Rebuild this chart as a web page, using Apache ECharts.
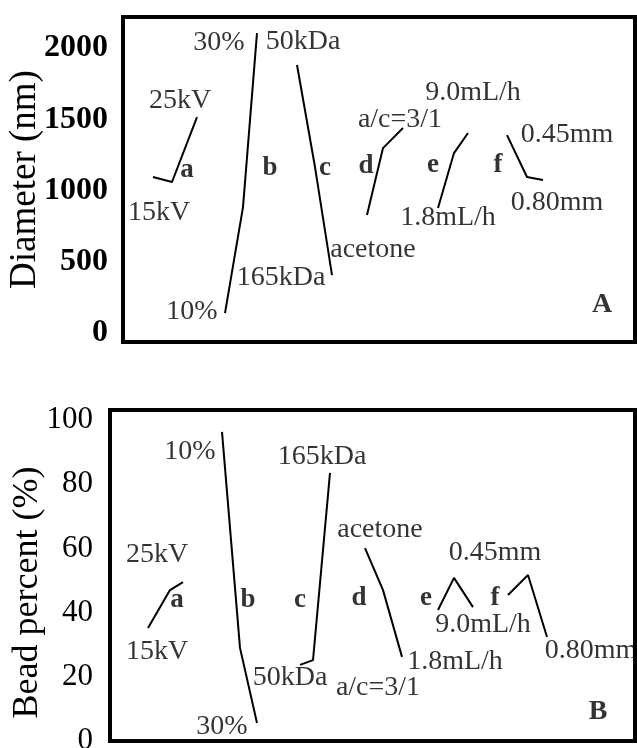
<!DOCTYPE html>
<html>
<head>
<meta charset="utf-8">
<script src="https://cdn.jsdelivr.net/npm/echarts@6/dist/echarts.min.js"></script>
<style>
html,body{margin:0;padding:0;background:#fff;}
#chart{width:637px;height:748px;}
</style>
</head>
<body>
<div id="chart"></div>
<script>
// ---- data ----
const groupNames = ['a', 'b', 'c', 'd', 'e', 'f'];

// Panel A: Diameter (nm)
const diameterX = [[30, 49, 74], [102, 120, 134], [174, 192, 209], [244, 260, 280], [315, 331, 345], [384, 404, 420]];
const diameterY = [[1095, 1060, 1515], [140, 884, 2105], [1881, 1165, 407], [828, 1298, 1439], [877, 1263, 1404], [1389, 1095, 1074]];
const diameterTicks = [0, 500, 1000, 1500, 2000];

// Panel B: Bead percent (%)
const beadX = [[38, 60, 73], [112, 130, 147], [190, 203, 220], [255, 273, 292], [328, 344, 363], [398, 418, 437]];
const beadY = [[35.2, 47.0, 49.5], [96.3, 29.0, 5.6], [23.7, 25.2, 83.5], [60.1, 47.0, 26.2], [40.8, 50.8, 41.7], [45.5, 51.7, 32.4]];
const beadTicks = [0, 20, 40, 60, 80, 100];

// annotation texts with anchor positions in data units: [text, x, y, bold]
const notesA = [
  ['30%', 96, 2035, 0], ['50kDa', 180, 2042, 0], ['25kV', 57, 1628, 0], ['15kV', 36, 842, 0],
  ['a/c=3/1', 277, 1495, 0], ['9.0mL/h', 350, 1684, 0], ['0.45mm', 444, 1389, 0], ['0.80mm', 434, 912, 0],
  ['1.8mL/h', 325, 807, 0], ['acetone', 250, 582, 0], ['165kDa', 158, 386, 0], ['10%', 69, 147, 0],
  ['a', 64, 1144, 1], ['b', 147, 1158, 1], ['c', 202, 1158, 1], ['d', 243, 1170, 1], ['e', 310, 1179, 1], ['f', 375, 1179, 1],
  ['A', 479, 196, 2]
];
const notesB = [
  ['10%', 80, 90.0, 0], ['165kDa', 212, 88.5, 0], ['acetone', 270, 65.7, 0], ['25kV', 47, 57.9, 0],
  ['0.45mm', 385, 58.6, 0], ['9.0mL/h', 373, 36.1, 0], ['15kV', 47, 27.7, 0], ['0.80mm', 481, 28.3, 0],
  ['1.8mL/h', 345, 24.6, 0], ['50kDa', 180, 19.6, 0], ['a/c=3/1', 268, 16.5, 0], ['30%', 112, 4.4, 0],
  ['a', 67, 43.9, 1], ['b', 138, 43.9, 1], ['c', 190, 43.9, 1], ['d', 249, 44.5, 1], ['e', 316, 44.5, 1], ['f', 385, 44.5, 1],
  ['B', 488, 9.0, 2]
];

// ---- chart ----
const FONT = "'Liberation Serif', 'Times New Roman', serif";
const chart = echarts.init(document.getElementById('chart'), null, {renderer: 'canvas'});

function lineSeries(xs, ys, idx) {
  return groupNames.map((n, i) => ({
    type: 'line', name: n, xAxisIndex: idx, yAxisIndex: idx,
    data: xs[i].map((x, j) => [x, ys[i][j]]),
    symbol: 'none', silent: true, animation: false,
    lineStyle: {color: '#000', width: 2}, z: 3
  }));
}
function noteSeries(notes, idx) {
  return {
    type: 'scatter', xAxisIndex: idx, yAxisIndex: idx, symbolSize: 0, clip: false,
    silent: true, animation: false, z: 4,
    data: notes.map(n => ({
      value: [n[1], n[2]],
      label: {
        show: true, position: 'inside', formatter: n[0], color: '#000',
        fontFamily: FONT,
        fontSize: n[3] === 2 ? 28 : (n[3] === 1 ? 27 : 28),
        fontWeight: n[3] ? 'bold' : 'normal'
      }
    }))
  };
}

const option = {
  backgroundColor: '#fff',
  animation: false,
  grid: [
    {left: 123, top: 17, width: 512, height: 325, show: true, borderColor: '#000', borderWidth: 4, backgroundColor: '#fff', containLabel: false, outerBoundsMode: 'none'},
    {left: 110, top: 410, width: 525, height: 331, show: true, borderColor: '#000', borderWidth: 4, backgroundColor: '#fff', containLabel: false, outerBoundsMode: 'none'}
  ],
  xAxis: [
    {gridIndex: 0, type: 'value', min: 0, max: 512, show: false},
    {gridIndex: 1, type: 'value', min: 0, max: 525, show: false}
  ],
  yAxis: [
    {
      gridIndex: 0, type: 'value', min: -63, max: 2218,
      name: 'Diameter (nm)', nameLocation: 'middle', nameGap: 79, nameMoveOverlap: false,
      nameTextStyle: {fontFamily: FONT, fontSize: 37, color: '#000'},
      axisLine: {show: false}, axisTick: {show: false}, splitLine: {show: false},
      axisLabel: {customValues: diameterTicks, formatter: v => String(v), margin: 15, fontFamily: FONT, fontSize: 32, fontWeight: 'bold', color: '#000'}
    },
    {
      gridIndex: 1, type: 'value', min: 0, max: 103.1,
      name: 'Bead percent (%)', nameLocation: 'middle', nameGap: 64, nameMoveOverlap: false,
      nameTextStyle: {fontFamily: FONT, fontSize: 36, color: '#000', padding: [0, 34, 0, 0]},
      axisLine: {show: false}, axisTick: {show: false}, splitLine: {show: false},
      axisLabel: {customValues: beadTicks, formatter: v => String(v), margin: 17, fontFamily: FONT, fontSize: 31, color: '#000'}
    }
  ],
  series: [].concat(
    lineSeries(diameterX, diameterY, 0),
    lineSeries(beadX, beadY, 1),
    [noteSeries(notesA, 0), noteSeries(notesB, 1)]
  )
};
chart.setOption(option);
</script>
</body>
</html>
